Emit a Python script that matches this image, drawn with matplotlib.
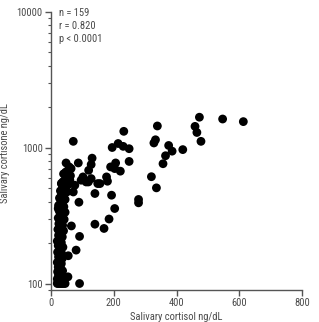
import matplotlib
matplotlib.use("Agg")
import matplotlib.pyplot as plt
from matplotlib.ticker import LogLocator, FixedLocator, NullFormatter
from matplotlib import font_manager
import logging
logging.getLogger('matplotlib.font_manager').setLevel(logging.ERROR)

available = {f.name for f in font_manager.fontManager.ttflist}
prefs = ['Liberation Sans Narrow', 'Roboto Condensed', 'Archivo Narrow', 'Asap Condensed']
fam = [p for p in prefs if p in available][:1] + ['DejaVu Sans']
plt.rcParams['font.family'] = fam

# Salivary cortisol (ng/dL)
cortisol = [
    # dense low-cortisol column
    20, 25, 30, 35, 40, 45, 22, 28, 33, 38,
    20, 26, 31, 36, 24, 29, 34, 21, 27, 32,
    37, 23, 28, 33, 20, 26, 31, 36, 24, 29,
    34, 21, 27, 32, 38, 23, 28, 33, 20, 26,
    31, 36, 24, 29, 34, 40, 22, 27, 32, 37,
    25, 30, 35, 42, 23, 28, 33, 38, 45, 26,
    31, 36, 41, 24, 29, 34, 39, 45, 27, 32,
    37, 43, 50, 30, 35, 40, 46, 53, 33, 38,
    44, 50, 56, 62, 40, 47, 55, 64, 58, 45,
    # remaining points
    613, 547, 473, 459, 465, 478, 420, 386, 375, 365,
    357, 339, 333, 328, 320, 336, 279, 279, 232, 214,
    195, 230, 249, 249, 206, 190, 203, 221, 193, 203,
    177, 180, 156, 185, 169, 140, 140, 149, 119, 128,
    131, 128, 120, 87, 48, 71, 102, 96, 112, 89,
    91, 80, 55, 54, 91, 65, 59, 34, 76, 50,
    71, 34, 23, 29, 60,
]

# Salivary cortisone (ng/dL)
cortisone = [
    100, 100, 100, 100, 100, 100, 103, 105, 102, 104,
    108, 110, 112, 109, 115, 118, 120, 122, 125, 128,
    124, 132, 136, 140, 143, 147, 150, 153, 157, 162,
    166, 170, 175, 180, 185, 190, 195, 200, 205, 210,
    215, 220, 226, 232, 238, 244, 250, 256, 262, 268,
    275, 282, 290, 296, 303, 310, 318, 326, 334, 342,
    350, 358, 367, 375, 385, 395, 405, 415, 425, 436,
    447, 458, 470, 480, 492, 505, 518, 530, 545, 560,
    575, 590, 605, 620, 640, 660, 680, 700, 720, 500,
    1550, 1620, 1670, 1430, 1290, 1110, 965, 940, 1035, 870,
    760, 1440, 1140, 1080, 610, 505, 415, 392, 1315, 1070,
    1000, 1020, 980, 790, 770, 720, 700, 670, 446, 356,
    608, 565, 543, 298, 254, 273, 459, 543, 558, 591,
    835, 750, 680, 770, 770, 1110, 608, 575, 558, 396,
    222, 176, 160, 112, 100, 265, 580, 540, 528, 528,
    471, 446, 356, 269, 575,
]

annotation_lines = ["n = 159", "r = 0.820", "p < 0.0001"]
x_ticks = [0, 200, 400, 600, 800]
y_ticks = [100, 1000, 10000]

W, H = 319, 322
dpi = 100
fig = plt.figure(figsize=(W / dpi, H / dpi), dpi=dpi)
ax = fig.add_axes([51 / W, 32 / H, (302 - 51) / W, (290 - 11.5) / H])

ax.scatter(cortisol, cortisone, s=40, c='black', edgecolors='none', zorder=3, clip_on=False)

ax.set_yscale('log')
ax.set_xlim(0, 800)
ax.set_ylim(89.6, 10000)
ax.xaxis.set_major_locator(FixedLocator(x_ticks))
ax.yaxis.set_major_locator(FixedLocator(y_ticks))
ax.yaxis.set_minor_locator(LogLocator(base=10, subs=range(2, 10)))
ax.yaxis.set_minor_formatter(NullFormatter())
ax.set_yticklabels([str(v) for v in y_ticks])
ax.set_xticklabels([str(v) for v in x_ticks])

txt_col = '#4a4a4a'
for side in ['top', 'right']:
    ax.spines[side].set_visible(False)
for side in ['left', 'bottom']:
    ax.spines[side].set_color('#555555')
    ax.spines[side].set_linewidth(1.0)

fs = 7.6
ax.tick_params(axis='both', which='major', length=4, width=1.0, color='#555555',
               labelsize=fs, labelcolor=txt_col, pad=2)
ax.tick_params(axis='y', which='minor', length=2.5, width=0.8, color='#555555')

ax.set_xlabel('Salivary cortisol ng/dL', fontsize=fs, color=txt_col, labelpad=3)
ax.set_ylabel('Salivary cortisone ng/dL', fontsize=fs, color=txt_col, labelpad=1.5)
ax.yaxis.set_label_coords(-0.165, 0.49)

for i, line in enumerate(annotation_lines):
    fig.text(59 / W, 1 - (12.7 + 13.2 * i) / H, line, fontsize=fs, color=txt_col,
             ha='left', va='center')

fig.savefig('out.png', dpi=dpi)
